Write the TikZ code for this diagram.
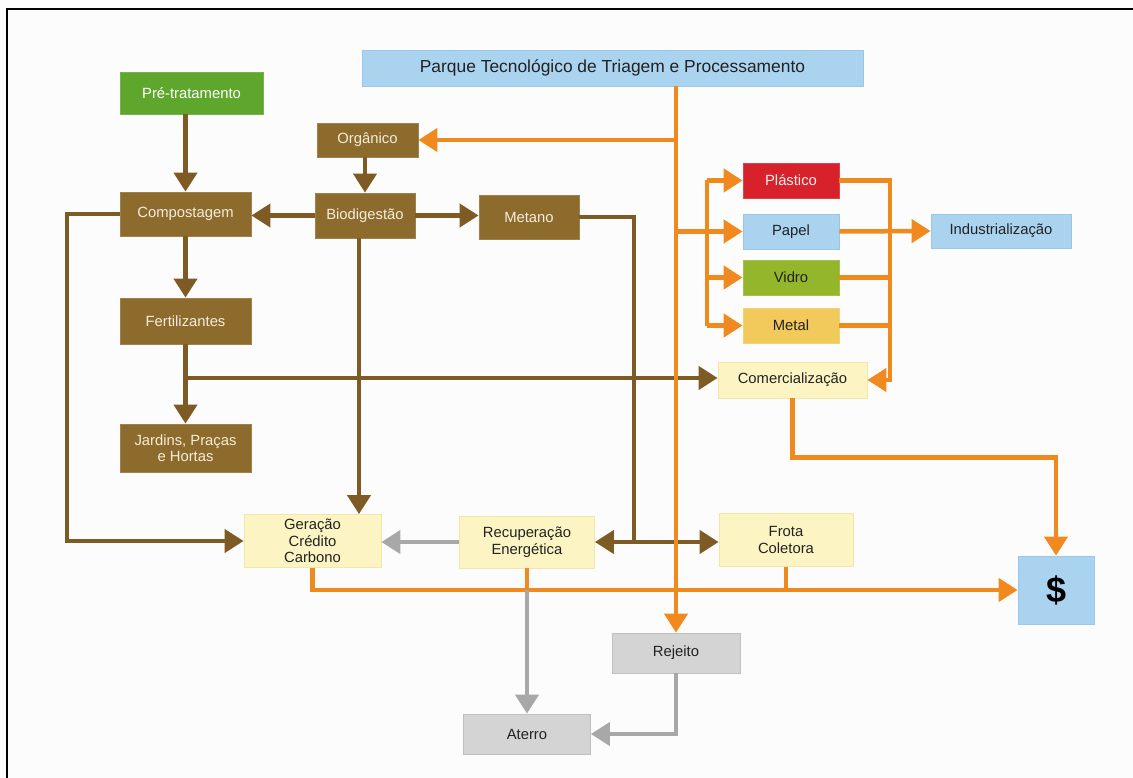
\documentclass[tikz,border=0pt]{standalone}
\usepackage{fontspec}
\setmainfont{Liberation Sans}
\usetikzlibrary{arrows.meta,calc}
\definecolor{orng}{HTML}{F08A1F}
\definecolor{brn}{HTML}{7E5B24}
\definecolor{brnbox}{HTML}{8D6B2D}
\definecolor{brntxt}{HTML}{F4EDDB}
\definecolor{grn}{HTML}{5FA62C}
\definecolor{lblue}{HTML}{AAD3F0}
\definecolor{lblueb}{HTML}{9BC6E6}
\definecolor{rd}{HTML}{D7222B}
\definecolor{vgrn}{HTML}{94B62B}
\definecolor{mtl}{HTML}{F2C95B}
\definecolor{lyel}{HTML}{FCF5C3}
\definecolor{lyelb}{HTML}{F1E7A6}
\definecolor{gbox}{HTML}{D4D4D4}
\definecolor{garr}{HTML}{A8A8A8}
\definecolor{txt}{HTML}{222222}
\definecolor{bg}{HTML}{FCFCFC}
\tikzset{
  box/.style={rectangle, inner sep=0pt, align=center, line width=0.8pt,
    font=\fontsize{14.8}{16.5}\selectfont},
  sz/.style 2 args={minimum width=#1pt, minimum height=#2pt},
  brownbox/.style={box, fill=brnbox, draw=brnbox!85!white, text=brntxt},
  greenbox/.style={box, fill=grn, draw=grn!85!white, text=white},
  bluebox/.style={box, fill=lblue, draw=lblueb, text=txt},
  redbox/.style={box, fill=rd, draw=rd!85!white, text=white!92!red},
  olivebox/.style={box, fill=vgrn, draw=vgrn!85!white, text=txt},
  metalbox/.style={box, fill=mtl, draw=mtl!85!white, text=txt},
  yelbox/.style={box, fill=lyel, draw=lyelb, text=txt},
  graybox/.style={box, fill=gbox, draw=gbox!90!black, text=txt},
  tip/.style={-{Triangle[length=19pt,width=23pt]}},
  oline/.style={draw=orng, line width=4.5pt},
  oarr/.style={oline, tip},
  bline/.style={draw=brn, line width=4.2pt},
  barr/.style={bline, tip},
  garrow/.style={draw=garr, line width=4.2pt, tip},
}
\begin{document}
\begin{tikzpicture}[x=1pt, y=-1pt]
\useasboundingbox (0,0) rectangle (1133,778);
\fill[bg] (0,0) rectangle (1133,778);
\draw[line width=2.5pt, black] (1133,9) -- (7,9) -- (7,778);

% nodes
\node[bluebox, sz={501}{36}, font=\fontsize{17.4}{20}\selectfont] (title) at (612.5,68) {Parque Tecnológico de Triagem e Processamento};
\node[greenbox, sz={143}{42}] (pre) at (191.5,93) {Pré-tratamento};
\node[brownbox, sz={101}{34}] (org) at (367.5,140) {Orgânico};
\node[brownbox, sz={131}{44}] (comp) at (185.5,214) {Compostagem};
\node[brownbox, sz={100}{45}] (bio) at (365,215.5) {Biodigestão};
\node[brownbox, sz={100}{44}] (met) at (529,217) {Metano};
\node[brownbox, sz={131}{46}] (fert) at (185.5,321) {Fertilizantes};
\node[brownbox, sz={131}{48}] (jard) at (185.5,448) {Jardins, Praças\\e Hortas};
\node[yelbox, sz={137}{53}] (ger) at (312.5,541) {Geração\\Crédito\\Carbono};
\node[yelbox, sz={135}{52}] (rec) at (527,542) {Recuperação\\Energética};
\node[yelbox, sz={134}{53}] (frota) at (786,540) {Frota\\Coletora};
\node[bluebox, sz={76}{68}, font=\fontsize{36}{40}\selectfont\bfseries, text=black] (dollar) at (1056,590) {\$};
\node[graybox, sz={128}{40}] (rej) at (676,653) {Rejeito};
\node[graybox, sz={127}{40}] (ater) at (527,734) {Aterro};
\node[redbox, sz={96}{35}] (plast) at (791,180.5) {Plástico};
\node[bluebox, sz={96}{35}] (papel) at (791,231.5) {Papel};
\node[olivebox, sz={96}{35}] (vidro) at (791,277.5) {Vidro};
\node[metalbox, sz={96}{35}] (metal) at (791,325.5) {Metal};
\node[bluebox, sz={140}{34}] (ind) at (1001,231) {Industrialização};
\node[yelbox, sz={149}{36}] (com) at (792.5,380) {Comercialização};

% helper coordinates
\coordinate (tr) at (676,86);
\coordinate (bus) at (707,0);
\coordinate (rb) at (890,0);
\coordinate (lx) at (67,0);
\coordinate (bx) at (359,0);
\coordinate (mj) at (634,542);
\coordinate (fx) at (186,378);

% brown connectors
\draw[barr] (comp.north |- pre.south) -- (comp.north);
\draw[barr] (bio.north |- org.south) -- (bio.north);
\draw[barr] (bio.west) -- (bio.west -| comp.east);
\draw[barr] (bio.east) -- (bio.east -| met.west);
\draw[barr] (comp.west) -- (comp.west -| lx) |- (ger.west);
\draw[barr] (comp.south) -- (fert.north);
\draw[barr] (fert.south) -- (jard.north);
\draw[barr] (fx) -- (fx -| com.west);
\draw[barr] (bx |- bio.south) -- (bx |- ger.north);
\draw[bline] (met.east) -| (mj);
\draw[barr] (mj) -- (mj -| rec.east);
\draw[barr] (mj) -- (mj -| frota.west);

% orange connectors
\draw[oarr] (tr) -- (rej.north);
\draw[oarr] (org.east -| tr) -- (org.east);
\draw[oarr] (papel.west -| tr) -- (papel.west);
\draw[oline] (bus |- plast.west) -- (bus |- metal.west);
\draw[oarr] (bus |- plast.west) -- (plast.west);
\draw[oarr] (bus |- vidro.west) -- (vidro.west);
\draw[oarr] (bus |- metal.west) -- (metal.west);
\draw[oarr] (plast.east) -- (plast.east -| rb) -- (com.east -| rb) -- (com.east);
\draw[oline] (vidro.east) -- (vidro.east -| rb);
\draw[oline] (metal.east) -- (metal.east -| rb);
\draw[oarr] (papel.east) -- (ind.west);
\draw[oarr] (com.south) -- ++(0,59) -| (dollar.north);
\draw[oarr] (ger.south) |- (dollar.west);
\draw[oline] (rec.south) -- (rec.south |- dollar.west);
\draw[oline] (frota.south) -- (frota.south |- dollar.west);

% gray connectors
\draw[garrow] (rec.west) -- (rec.west -| ger.east);
\draw[garrow] (rec.south |- dollar.west) -- (ater.north);
\draw[garrow] (rej.south) |- (ater.east);
\end{tikzpicture}
\end{document}
